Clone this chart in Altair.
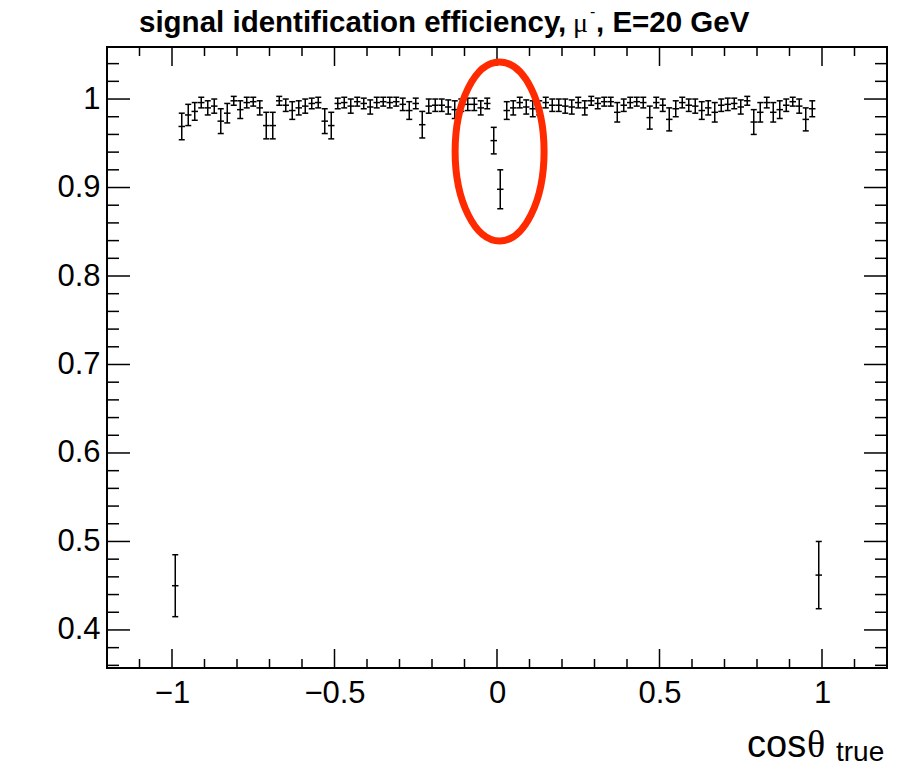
import altair as alt
import pandas as pd

# ---------------- data ----------------
BIN_CENTERS = [
    -0.99, -0.97, -0.95, -0.93, -0.91, -0.89, -0.87, -0.85, -0.83, -0.81,
    -0.79, -0.77, -0.75, -0.73, -0.71, -0.69, -0.67, -0.65, -0.63, -0.61,
    -0.59, -0.57, -0.55, -0.53, -0.51, -0.49, -0.47, -0.45, -0.43, -0.41,
    -0.39, -0.37, -0.35, -0.33, -0.31, -0.29, -0.27, -0.25, -0.23, -0.21,
    -0.19, -0.17, -0.15, -0.13, -0.11, -0.09, -0.07, -0.05, -0.03, -0.01,
    0.01, 0.03, 0.05, 0.07, 0.09, 0.11, 0.13, 0.15, 0.17, 0.19,
    0.21, 0.23, 0.25, 0.27, 0.29, 0.31, 0.33, 0.35, 0.37, 0.39,
    0.41, 0.43, 0.45, 0.47, 0.49, 0.51, 0.53, 0.55, 0.57, 0.59,
    0.61, 0.63, 0.65, 0.67, 0.69, 0.71, 0.73, 0.75, 0.77, 0.79,
    0.81, 0.83, 0.85, 0.87, 0.89, 0.91, 0.93, 0.95, 0.97, 0.99,
]
EFFICIENCY = [
    0.450, 0.969, 0.982, 0.986, 0.996, 0.990, 0.992, 0.975, 0.984, 0.998,
    0.988, 0.996, 0.997, 0.990, 0.970, 0.970, 0.998, 0.993, 0.987, 0.990,
    0.992, 0.995, 0.996, 0.975, 0.970, 0.995, 0.996, 0.992, 0.997, 0.995,
    0.991, 0.996, 0.997, 0.996, 0.997, 0.994, 0.987, 0.995, 0.971, 0.992,
    0.993, 0.993, 0.991, 0.988, 0.993, 0.994, 0.994, 0.990, 0.995, 0.953,
    0.898, 0.987, 0.990, 0.996, 0.991, 0.989, 0.990, 0.996, 0.993, 0.993,
    0.992, 0.991, 0.996, 0.990, 0.998, 0.995, 0.997, 0.997, 0.985, 0.993,
    0.996, 0.997, 0.996, 0.979, 0.996, 0.993, 0.977, 0.989, 0.996, 0.993,
    0.992, 0.987, 0.990, 0.985, 0.993, 0.994, 0.995, 0.991, 0.998, 0.974,
    0.985, 0.996, 0.985, 0.988, 0.993, 0.997, 0.992, 0.977, 0.989, 0.462,
]
EFF_ERROR = [
    0.035, 0.015, 0.012, 0.010, 0.006, 0.008, 0.008, 0.014, 0.011, 0.005,
    0.010, 0.006, 0.005, 0.008, 0.015, 0.015, 0.005, 0.007, 0.010, 0.008,
    0.008, 0.006, 0.006, 0.014, 0.015, 0.006, 0.006, 0.008, 0.005, 0.006,
    0.008, 0.006, 0.005, 0.006, 0.005, 0.007, 0.010, 0.006, 0.015, 0.008,
    0.007, 0.007, 0.008, 0.010, 0.007, 0.007, 0.007, 0.008, 0.006, 0.015,
    0.022, 0.010, 0.008, 0.006, 0.008, 0.009, 0.008, 0.006, 0.007, 0.007,
    0.008, 0.008, 0.006, 0.008, 0.005, 0.006, 0.005, 0.005, 0.011, 0.007,
    0.006, 0.005, 0.006, 0.013, 0.006, 0.007, 0.013, 0.009, 0.006, 0.007,
    0.008, 0.010, 0.008, 0.011, 0.007, 0.007, 0.006, 0.008, 0.005, 0.014,
    0.011, 0.006, 0.011, 0.010, 0.007, 0.005, 0.008, 0.013, 0.009, 0.038,
]
BIN_HALF_WIDTH = 0.01

X_MAJOR = [-1.0, -0.5, 0.0, 0.5, 1.0]
X_MINOR = [-1.1, -0.9, -0.8, -0.7, -0.6, -0.4, -0.3, -0.2, -0.1,
           0.1, 0.2, 0.3, 0.4, 0.6, 0.7, 0.8, 0.9, 1.1]
Y_MAJOR = [0.4, 0.5, 0.6, 0.7, 0.8, 0.9, 1.0]
Y_MINOR = [0.36, 0.38, 0.42, 0.44, 0.46, 0.48, 0.52, 0.54, 0.56, 0.58,
           0.62, 0.64, 0.66, 0.68, 0.72, 0.74, 0.76, 0.78, 0.82, 0.84,
           0.86, 0.88, 0.92, 0.94, 0.96, 0.98, 1.02, 1.04]

HIGHLIGHT_X = [0.008]
HIGHLIGHT_Y = [0.9407]

assert len(BIN_CENTERS) == len(EFFICIENCY) == len(EFF_ERROR) == 100

df = pd.DataFrame({"c": BIN_CENTERS, "v": EFFICIENCY, "e": EFF_ERROR})
df["lo"] = df["v"] - df["e"]
df["hi"] = df["v"] + df["e"]
df["xl"] = df["c"] - BIN_HALF_WIDTH
df["xr"] = df["c"] + BIN_HALF_WIDTH

# ---------------- layout ----------------
W, H = 780, 621
LEFT, TOP = 107, 47
SANS = "Liberation Sans"
SERIF = "Liberation Serif"

xs = alt.Scale(domain=[-1.2, 1.2], nice=False, zero=False)
ys = alt.Scale(domain=[0.357, 1.0588], nice=False, zero=False)

xaxis = alt.Axis(values=X_MAJOR, format=".1~f", title=None, ticks=False,
                 domain=False, grid=False, labelFont=SANS, labelFontSize=31,
                 labelColor="black", labelPadding=10, labelFlush=False)
yaxis = alt.Axis(values=Y_MAJOR, format=".1~f", title=None, ticks=False,
                 domain=False, grid=False, labelFont=SANS, labelFontSize=31,
                 labelColor="black", labelPadding=7)


def X(field):
    return alt.X(field, scale=xs, axis=xaxis)


def Y(field):
    return alt.Y(field, scale=ys, axis=yaxis)


ERR_W = 1.5
vert = alt.Chart(df).mark_rule(color="black", strokeWidth=ERR_W).encode(
    x=X("c:Q"), y=Y("lo:Q"), y2="hi:Q")
horiz = alt.Chart(df).mark_rule(color="black", strokeWidth=ERR_W).encode(
    x=X("xl:Q"), x2="xr:Q", y=Y("v:Q"))
cap_lo = alt.Chart(df).mark_tick(color="black", orient="horizontal", size=6,
                                 thickness=ERR_W, opacity=1).encode(
    x=X("c:Q"), y=Y("lo:Q"))
cap_hi = alt.Chart(df).mark_tick(color="black", orient="horizontal", size=6,
                                 thickness=ERR_W, opacity=1).encode(
    x=X("c:Q"), y=Y("hi:Q"))

TW = 1.5


def xticks(vals, length):
    d = pd.DataFrame({"t": vals})
    bottom = alt.Chart(d).mark_rule(color="black", strokeWidth=TW).encode(
        x=X("t:Q"), y=alt.value(H), y2=alt.value(H - length))
    top = alt.Chart(d).mark_rule(color="black", strokeWidth=TW).encode(
        x=X("t:Q"), y=alt.value(0), y2=alt.value(length))
    return [bottom, top]


def yticks(vals, length):
    d = pd.DataFrame({"t": vals})
    left = alt.Chart(d).mark_rule(color="black", strokeWidth=TW).encode(
        y=Y("t:Q"), x=alt.value(0), x2=alt.value(length))
    right = alt.Chart(d).mark_rule(color="black", strokeWidth=TW).encode(
        y=Y("t:Q"), x=alt.value(W), x2=alt.value(W - length))
    return [left, right]


tick_layers = (xticks(X_MAJOR, 19) + xticks(X_MINOR, 9)
               + yticks(Y_MAJOR, 23) + yticks(Y_MINOR, 12))

# red ellipse annotation (custom symbol in the [-1,1] box, rx/ry ~ 0.5)
rx, k = 0.497, 0.5523
ELLIPSE = (f"M 0 -1 C {k*rx:.4f} -1 {rx} {-k:.4f} {rx} 0 "
           f"C {rx} {k:.4f} {k*rx:.4f} 1 0 1 "
           f"C {-k*rx:.4f} 1 {-rx} {k:.4f} {-rx} 0 "
           f"C {-rx} {-k:.4f} {-k*rx:.4f} -1 0 -1 Z")
ell = alt.Chart(pd.DataFrame({"x": HIGHLIGHT_X, "y": HIGHLIGHT_Y})).mark_point(
    shape=ELLIPSE, size=179 ** 2, filled=False, stroke="#ff2a00",
    strokeWidth=7, opacity=1).encode(x=X("x:Q"), y=Y("y:Q"))


def label(text, x, y, size, font=SANS, weight="normal", baseline="alphabetic"):
    return alt.Chart(pd.DataFrame({"s": [text]})).mark_text(
        font=font, fontSize=size, fontWeight=weight, align="left",
        baseline=baseline, color="black").encode(
        x=alt.value(x - LEFT), y=alt.value(y - TOP), text="s:N")


texts = [
    label("signal identification efficiency,", 139, 32, 29.5, weight="bold"),
    label("μ", 573, 32, 28, font=SERIF),
    label("-", 590, 17, 16, font=SANS),
    label(", E=20 GeV", 596, 32, 29.5, weight="bold"),
    label("cos", 747, 757, 38),
    label("θ", 807, 757, 38, font=SERIF),
    label("true", 836, 761, 28),
]

chart = alt.layer(vert, horiz, cap_lo, cap_hi, *tick_layers, ell, *texts).properties(
    width=W, height=H,
    autosize=alt.AutoSizeParams(type="none"),
    padding={"left": LEFT, "top": TOP, "right": 897 - LEFT - W, "bottom": 767 - TOP - H},
    background="white",
).configure_view(stroke="black", strokeWidth=2)

chart.save("out.html", embed_options={"renderer": "svg", "actions": False})
